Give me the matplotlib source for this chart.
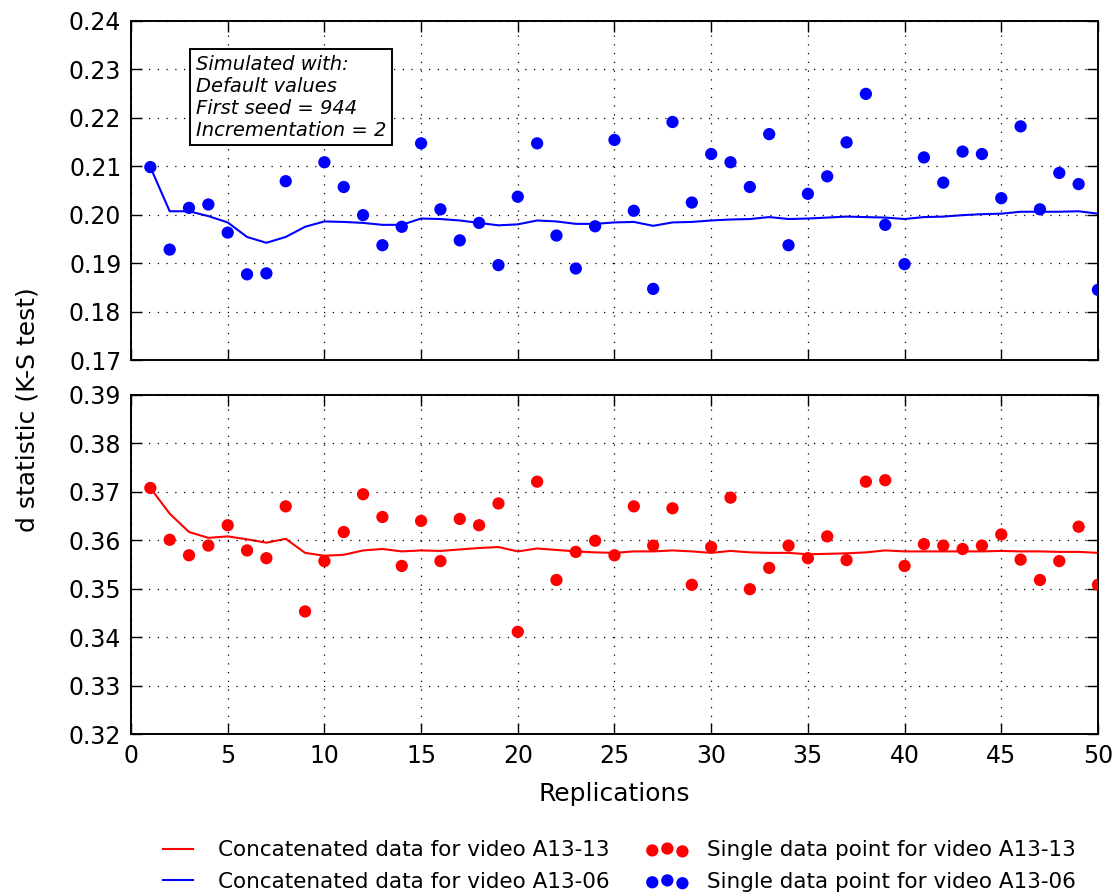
import numpy as np
import matplotlib
matplotlib.use("Agg")
import matplotlib.pyplot as plt
from matplotlib.legend_handler import HandlerPathCollection
from matplotlib.collections import PathCollection

replications = list(range(1, 51))

# Single data points, video A13-06 (top panel); replication 9 not visible
single_a1306 = [0.2098, 0.1928, 0.2014, 0.2021, 0.1963, 0.1877, 0.1879, 0.2069, np.nan, 0.2108,
                0.2057, 0.1999, 0.1937, 0.1975, 0.2147, 0.2011, 0.1947, 0.1983, 0.1896, 0.2037,
                0.2147, 0.1957, 0.1889, 0.1976, 0.2154, 0.2008, 0.1847, 0.2191, 0.2025, 0.2125,
                0.2108, 0.2057, 0.2166, 0.1937, 0.2043, 0.2079, 0.2149, 0.2249, 0.1979, 0.1898,
                0.2118, 0.2066, 0.2130, 0.2125, 0.2034, 0.2182, 0.2011, 0.2086, 0.2063, 0.1845]

# Concatenated data, video A13-06
concat_a1306 = [0.2098, 0.2007, 0.2007, 0.1997, 0.1984, 0.1954, 0.1942, 0.1954, 0.1975, 0.1986,
                0.1985, 0.1983, 0.1979, 0.1979, 0.1992, 0.1991, 0.1988, 0.1983, 0.1978, 0.1980,
                0.1988, 0.1986, 0.1981, 0.1981, 0.1984, 0.1985, 0.1977, 0.1984, 0.1985, 0.1988,
                0.1990, 0.1991, 0.1995, 0.1991, 0.1992, 0.1994, 0.1996, 0.1995, 0.1994, 0.1991,
                0.1995, 0.1996, 0.1999, 0.2001, 0.2002, 0.2006, 0.2006, 0.2006, 0.2007, 0.2002]

# Single data points, video A13-13 (bottom panel)
single_a1313 = [0.3708, 0.3601, 0.3569, 0.3589, 0.3631, 0.3579, 0.3563, 0.3670, 0.3453, 0.3557,
                0.3617, 0.3695, 0.3648, 0.3547, 0.3640, 0.3557, 0.3644, 0.3631, 0.3676, 0.3411,
                0.3721, 0.3518, 0.3576, 0.3599, 0.3569, 0.3670, 0.3589, 0.3666, 0.3508, 0.3586,
                0.3688, 0.3499, 0.3543, 0.3589, 0.3563, 0.3608, 0.3559, 0.3721, 0.3724, 0.3547,
                0.3592, 0.3589, 0.3582, 0.3589, 0.3612, 0.3560, 0.3518, 0.3557, 0.3628, 0.3508]

# Concatenated data, video A13-13
concat_a1313 = [0.3708, 0.3655, 0.3617, 0.3605, 0.3608, 0.3602, 0.3595, 0.3603, 0.3574, 0.3568,
                0.3570, 0.3579, 0.3582, 0.3577, 0.3579, 0.3578, 0.3581, 0.3584, 0.3586, 0.3577,
                0.3583, 0.3580, 0.3577, 0.3575, 0.3574, 0.3577, 0.3577, 0.3579, 0.3577, 0.3574,
                0.3578, 0.3575, 0.3574, 0.3574, 0.3571, 0.3572, 0.3573, 0.3575, 0.3579, 0.3577,
                0.3577, 0.3577, 0.3577, 0.3577, 0.3578, 0.3577, 0.3577, 0.3576, 0.3576, 0.3574]

top_yticks = [0.17, 0.18, 0.19, 0.20, 0.21, 0.22, 0.23, 0.24]
bottom_yticks = [0.32, 0.33, 0.34, 0.35, 0.36, 0.37, 0.38, 0.39]
xticks = [0, 5, 10, 15, 20, 25, 30, 35, 40, 45, 50]

label_line_13 = "Concatenated data for video A13-13"
label_line_06 = "Concatenated data for video A13-06"
label_pts_13 = "Single data point for video A13-13"
label_pts_06 = "Single data point for video A13-06"
info_text = "Simulated with:\nDefault values\nFirst seed = 944\nIncrementation = 2"

plt.rcParams['font.family'] = ['DejaVu Sans']

fig = plt.figure(figsize=(11.14, 8.96), dpi=100)
left, right = 0.1176, 0.9856
ax_top = fig.add_axes([left, 0.598, right - left, 0.977 - 0.598])
ax_bot = fig.add_axes([left, 0.1808, right - left, 0.5592 - 0.1808], sharex=ax_top)

tick_fs = 17
label_fs = 18
dot_s = 78
lw = 1.5

def style(ax, yticks):
    ax.set_xlim(0, 50)
    ax.set_ylim(yticks[0], yticks[-1])
    ax.set_yticks(yticks)
    ax.set_yticklabels([f"{v:.2f}" for v in yticks])
    ax.set_xticks(xticks)
    ax.grid(True, color='black', linestyle=(0, (1, 6)), linewidth=0.9)
    ax.tick_params(direction='in', length=8, width=1, top=True, right=True,
                   labelsize=tick_fs, pad=7)
    for sp in ax.spines.values():
        sp.set_linewidth(1.4)
    ax.set_axisbelow(False)

# top panel
l06, = ax_top.plot(replications, concat_a1306, color='blue', lw=lw, label=label_line_06, zorder=2)
s06 = ax_top.scatter(replications, single_a1306, s=dot_s, color='blue', edgecolors='none',
                     label=label_pts_06, zorder=3)
style(ax_top, top_yticks)
ax_top.tick_params(labelbottom=False)
ax_top.text(0.067, 0.9, info_text, transform=ax_top.transAxes, ha='left', va='top',
            fontsize=14, style='italic', linespacing=1.2,
            bbox=dict(boxstyle='square,pad=0.3', facecolor='white', edgecolor='black', linewidth=1.4),
            zorder=5)

# bottom panel
l13, = ax_bot.plot(replications, concat_a1313, color='red', lw=lw, label=label_line_13, zorder=2)
s13 = ax_bot.scatter(replications, single_a1313, s=dot_s, color='red', edgecolors='none',
                     label=label_pts_13, zorder=3)
style(ax_bot, bottom_yticks)
ax_bot.set_xlabel("Replications", fontsize=label_fs, labelpad=10)

fig.text(0.025, 1 - 410 / 896, "d statistic (K-S test)", rotation=90, fontsize=label_fs,
         ha='center', va='center')

fig.legend([l13, l06, s13, s06], [label_line_13, label_line_06, label_pts_13, label_pts_06],
           ncol=2, frameon=False, loc='center', bbox_to_anchor=(0.556, 1 - 866 / 896),
           fontsize=15.5, scatterpoints=3, scatteryoffsets=[0.375, 0.5, 0.3125],
           markerscale=1.0,
           handlelength=1.4, columnspacing=2.0, labelspacing=0.55, handletextpad=1.15,
           handler_map={PathCollection: HandlerPathCollection(marker_pad=0.0)})

fig.savefig("out.png", dpi=100)
